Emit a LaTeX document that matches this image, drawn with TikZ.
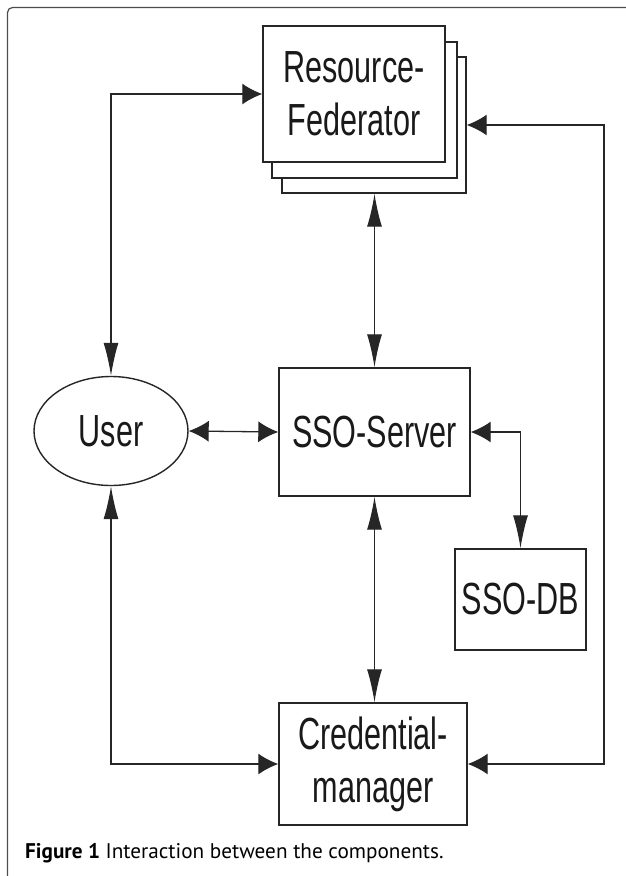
\documentclass[tikz,border=0pt]{standalone}
\usepackage{fontspec}
\usetikzlibrary{arrows.meta,shapes.geometric,calc}
\newfontfamily\dfont[FakeStretch=0.68]{Liberation Sans}
\newfontfamily\capfont{PT Sans}
\begin{document}
\begin{tikzpicture}[x=1pt,y=-1pt,
  ht/.tip={Latex[length=20pt,width=21pt]},
  vt/.tip={Latex[length=33pt,width=15pt]},
  comp/.style={draw=black!85,line width=1.4pt,fill=white,inner sep=0pt,
    font=\dfont\fontsize{45}{53}\selectfont,align=center,text=black!90},
  conn/.style={draw=black!85,line width=1.3pt},
  frame/.style={draw=black!70,line width=1.2pt}]
\useasboundingbox (0,0) rectangle (625,876);
% frame
\draw[frame,rounded corners=5pt] (7.5,880) -- (7.5,7.5) -- (630,7.5);
% resource federator stack
\node[comp,minimum width=184pt,minimum height=136pt] (rf3) at (374,125) {};
\node[comp,minimum width=185pt,minimum height=136pt] (rf2) at (364.5,110) {};
\node[comp,minimum width=182pt,minimum height=136pt] (rf) at (354,94) {Resource-\\Federator};
% other components
\node[comp,minimum width=191pt,minimum height=128pt] (sso) at (374.5,432) {SSO-Server};
\node[comp,ellipse,minimum width=154pt,minimum height=109pt] (user) at (111,431) {User};
\node[comp,minimum width=131pt,minimum height=101pt] (db) at (520.5,599.5) {SSO-DB};
\node[comp,minimum width=188pt,minimum height=122pt] (cm) at (373,764) {Credential-\\manager};
\coordinate (rline) at (604,0);
% connectors
\draw[conn,vt-ht] (user.north) |- (rf.west);
\draw[conn,ht-ht] (rf3.east) -| (rline |- cm.east) -- (cm.east);
\draw[conn,vt-vt] (sso.north) -- (sso.north |- rf3.south);
\draw[conn,ht-ht] (user.east) -- (sso.west);
\draw[conn,ht-vt] (sso.east) -| (db.north);
\draw[conn,vt-vt] (sso.south) -- (sso.south |- cm.north);
\draw[conn,vt-ht] (user.south) |- (cm.west);
% caption
\node[anchor=base west,inner sep=0pt,font=\capfont\fontsize{21.2}{25}\selectfont] (cap) at (25,858)
  {\textbf{Figure 1} Interaction between the components.};
\end{tikzpicture}
\end{document}
